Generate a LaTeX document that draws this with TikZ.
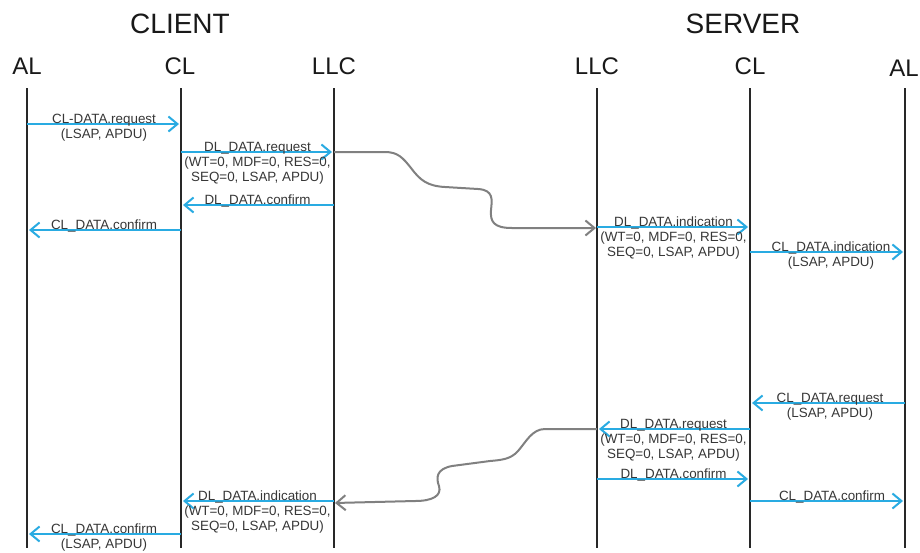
\documentclass[tikz,border=0pt]{standalone}
\usepackage{fontspec}
\setmainfont{Liberation Sans}
\usetikzlibrary{arrows.meta}
\definecolor{msgblue}{RGB}{41,171,226}
\definecolor{linkgray}{RGB}{128,128,128}
\definecolor{lifeink}{RGB}{40,40,40}
\definecolor{textink}{RGB}{55,55,55}
\begin{document}
\begin{tikzpicture}[x=1pt,y=-1pt,
  lifeline/.style={draw=lifeink, line width=2pt},
  msgarrow/.style={draw=msgblue, line width=2pt, -{Straight Barb[length=9pt,width=15pt]}, shorten >=2pt},
  llclink/.style={draw=linkgray, line width=2pt, -{Straight Barb[length=9pt,width=15pt]}, shorten >=1pt},
  sidetitle/.style={font=\fontsize{28}{30}\selectfont, anchor=base, text=black!90, inner sep=0pt},
  layertitle/.style={font=\fontsize{24}{26}\selectfont, anchor=base, text=black!90, inner sep=0pt},
  msgtext/.style={font=\fontsize{13.4}{15}\selectfont, align=center, anchor=north, inner sep=0pt, text=textink},
]
\fill[white] (0,0) rectangle (920,552);
\useasboundingbox (0,0) rectangle (920,552);

% side titles
\node[sidetitle] (client) at (180,33) {CLIENT};
\node[sidetitle] (server) at (743,33) {SERVER};

% layer titles
\node[layertitle] (tAL1)  at (27,74)  {AL};
\node[layertitle] (tCL1)  at (180,74) {CL};
\node[layertitle] (tLLC1) at (334,74) {LLC};
\node[layertitle] (tLLC2) at (597,74) {LLC};
\node[layertitle] (tCL2)  at (750,74) {CL};
\node[layertitle] (tAL2)  at (904,76) {AL};

% lifelines
\coordinate (AL1)  at (27,88);  \coordinate (AL1e)  at (27,548);
\coordinate (CL1)  at (181,88); \coordinate (CL1e)  at (181,548);
\coordinate (LLC1) at (334,88); \coordinate (LLC1e) at (334,548);
\coordinate (LLC2) at (597,88); \coordinate (LLC2e) at (597,548);
\coordinate (CL2)  at (750,88); \coordinate (CL2e)  at (750,548);
\coordinate (AL2)  at (905,88); \coordinate (AL2e)  at (905,548);
\foreach \a in {AL1,CL1,LLC1,LLC2,CL2,AL2}
  \draw[lifeline] (\a) -- (\a e);

% client: request
\draw[msgarrow] (AL1 |- 0,124) -- (CL1 |- 0,124);
\node[msgtext] (m1) at (104,114) {CL-DATA.request\\(LSAP, APDU)};
\draw[msgarrow] (CL1 |- 0,152) -- (LLC1 |- 0,152);
\node[msgtext] (m2) at (257.5,142) {DL\_DATA.request\\(WT=0, MDF=0, RES=0,\\SEQ=0, LSAP, APDU)};
\draw[msgarrow] (LLC1 |- 0,205) -- (CL1 |- 0,205);
\node[msgtext] (m3) at (257.5,194.5) {DL\_DATA.confirm};
\draw[msgarrow] (CL1 |- 0,230) -- (AL1 |- 0,230);
\node[msgtext] (m4) at (104,219.5) {CL\_DATA.confirm};

% link client LLC -> server LLC
\draw[llclink] (LLC1 |- 0,152) -- (385,152)
  .. controls (398,152) and (403,158) .. (411,168)
  .. controls (420,180) and (427,186) .. (445,187)
  -- (478,189)
  .. controls (494,190) and (492,200) .. (491,210)
  .. controls (490,222) and (494,228) .. (512,228)
  -- (LLC2 |- 0,228);

% server: indication
\draw[msgarrow] (LLC2 |- 0,227) -- (CL2 |- 0,227);
\node[msgtext] (m5) at (673.5,217) {DL\_DATA.indication\\(WT=0, MDF=0, RES=0,\\SEQ=0, LSAP, APDU)};
\draw[msgarrow] (CL2 |- 0,252) -- (AL2 |- 0,252);
\node[msgtext] (m6) at (831,242) {CL\_DATA.indication\\(LSAP, APDU)};

% server: response
\draw[msgarrow] (AL2 |- 0,403) -- (CL2 |- 0,403);
\node[msgtext] (m7) at (830,393) {CL\_DATA.request\\(LSAP, APDU)};
\draw[msgarrow] (CL2 |- 0,429) -- (LLC2 |- 0,429);
\node[msgtext] (m8) at (673.5,419) {DL\_DATA.request\\(WT=0, MDF=0, RES=0,\\SEQ=0, LSAP, APDU)};
\draw[msgarrow] (LLC2 |- 0,479) -- (CL2 |- 0,479);
\node[msgtext] (m9) at (673.5,468.5) {DL\_DATA.confirm};
\draw[msgarrow] (CL2 |- 0,501) -- (AL2 |- 0,501);
\node[msgtext] (m10) at (832,490.5) {CL\_DATA.confirm};

% link server LLC -> client LLC
\draw[llclink] (LLC2 |- 0,429) -- (545,429)
  .. controls (532,429) and (526,442) .. (518,451)
  .. controls (511,459) and (502,460) .. (490,461)
  -- (452,466)
  .. controls (436,469) and (436,478) .. (439,486)
  .. controls (442,496) and (432,501) .. (415,501)
  -- (LLC1 |- 0,503);

% client: indication
\draw[msgarrow] (LLC1 |- 0,501) -- (CL1 |- 0,501);
\node[msgtext] (m11) at (257.5,491) {DL\_DATA.indication\\(WT=0, MDF=0, RES=0,\\SEQ=0, LSAP, APDU)};
\draw[msgarrow] (CL1 |- 0,534) -- (AL1 |- 0,534);
\node[msgtext] (m12) at (104,523.5) {CL\_DATA.confirm\\(LSAP, APDU)};
\end{tikzpicture}
\end{document}
